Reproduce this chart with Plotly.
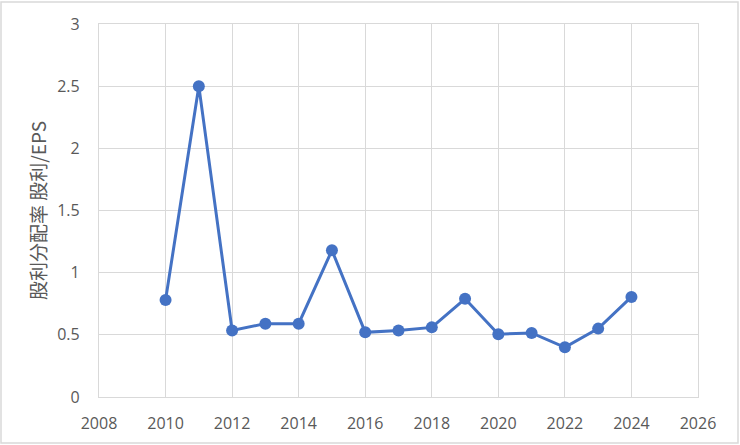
import plotly.graph_objects as go

years = [2010, 2011, 2012, 2013, 2014, 2015, 2016, 2017, 2018, 2019, 2020, 2021, 2022, 2023, 2024]
payout_ratio = [0.78, 2.50, 0.535, 0.59, 0.59, 1.18, 0.52, 0.535, 0.56, 0.79, 0.505, 0.515, 0.40, 0.55, 0.805]

W, H = 740, 445
ml, mr, mt, mb = 99, 42, 24, 48
pw, ph = W - ml - mr, H - mt - mb

fig = go.Figure()
fig.add_trace(go.Scatter(
    x=years, y=payout_ratio, mode='lines+markers',
    line=dict(color='#4472C4', width=3),
    marker=dict(color='#4472C4', size=12),
    showlegend=False,
))

grid = '#D9D9D9'
tickfont = dict(family='Open Sans, Liberation Sans, sans-serif', size=16, color='#595959')
fig.update_xaxes(range=[2008, 2026], dtick=2, tick0=2008, showgrid=True, gridcolor=grid, gridwidth=1.3,
                 zeroline=False, showline=True, linecolor=grid, linewidth=1.3, mirror=True,
                 tickfont=tickfont, ticks='', ticklabelstandoff=12)
fig.update_yaxes(range=[0, 3], dtick=0.5, showgrid=True, gridcolor=grid, gridwidth=1.3,
                 zeroline=False, showline=True, linecolor=grid, linewidth=1.3, mirror=True,
                 tickfont=tickfont, ticks='', ticklabelstandoff=15,
                 title=dict(text='股利分配率 股利/EPS', standoff=5,
                            font=dict(family='Noto Sans CJK JP', size=19, color='#595959')))

# outer chart border
fig.add_shape(type='rect', xref='paper', yref='paper',
              x0=(1 - ml) / pw, x1=(W - 2 - ml) / pw,
              y0=-(mb - 2) / ph, y1=(H - mb - 2) / ph,
              line=dict(color='#D9D9D9', width=1.5), layer='below')

fig.update_layout(width=W, height=H, margin=dict(l=ml, r=mr, t=mt, b=mb, autoexpand=False),
                  plot_bgcolor='white', paper_bgcolor='white')
fig.write_html("out.html", config={'displayModeBar': False},
               post_script="document.body.style.margin='0';")
